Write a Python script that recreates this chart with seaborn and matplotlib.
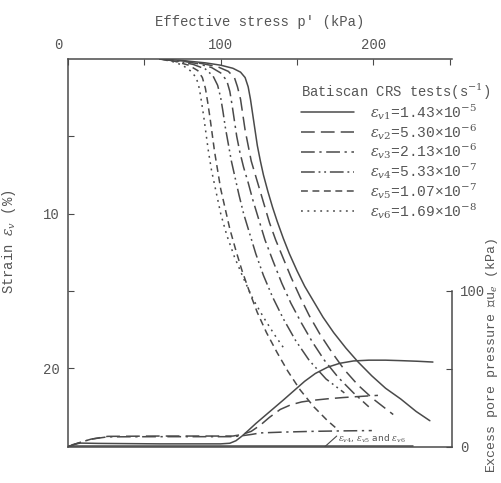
import matplotlib
matplotlib.use("Agg")
import matplotlib.pyplot as plt
from matplotlib.lines import Line2D
from matplotlib.transforms import ScaledTranslation
import seaborn as sns
import pandas as pd

# ---------------- data ----------------
# strain curves: effective stress p' (kPa) vs strain (%)
p1 = [60, 75, 90, 100, 108, 113, 116, 118, 119.5, 121, 122.5, 124, 126, 128, 131, 134,
      137, 141, 145, 150, 155, 161, 167, 174, 182, 190, 199, 208, 218, 228, 237]
s1 = [0, 0.1, 0.25, 0.4, 0.6, 0.85, 1.2, 1.8, 2.6, 3.6, 4.6, 5.6, 6.6, 7.5, 8.6, 9.6,
      10.5, 11.6, 12.6, 13.7, 14.7, 15.7, 16.7, 17.7, 18.7, 19.6, 20.5, 21.3, 22.0, 22.8, 23.4]

p2 = [60, 75, 88, 98, 105, 109, 111, 113, 114.5, 116, 118, 120, 123, 126, 129, 132,
      136, 141, 146, 152, 158, 165, 173, 181, 190, 200, 213]
s2 = [0, 0.12, 0.3, 0.5, 0.8, 1.2, 1.8, 2.6, 3.6, 4.6, 5.6, 6.6, 7.6, 8.6, 9.6, 10.6,
      11.7, 12.9, 14.1, 15.4, 16.6, 17.8, 19.0, 20.1, 21.1, 22.0, 23.0]

p3 = [60, 74, 85, 94, 100, 104, 106, 107.5, 109, 110.5, 112.5, 115, 118, 121, 125, 129,
      134, 140, 146, 153, 160, 168, 177, 187, 197]
s3 = [0, 0.12, 0.3, 0.55, 0.9, 1.4, 2.1, 3.0, 4.0, 5.0, 6.0, 7.0, 8.0, 9.1, 10.4, 11.7,
      13.0, 14.5, 15.8, 17.1, 18.3, 19.5, 20.6, 21.6, 22.5]

p4 = [60, 72, 82, 90, 95, 98, 100, 101.5, 103, 105, 107, 109.5, 112, 115, 119, 123,
      128, 134, 141, 149, 158, 169, 181]
s4 = [0, 0.15, 0.35, 0.65, 1.1, 1.7, 2.5, 3.4, 4.4, 5.5, 6.6, 7.7, 8.8, 10.0, 11.3, 12.6,
      14.0, 15.4, 16.8, 18.2, 19.5, 20.7, 21.6]

p5 = [60, 70, 79, 85, 88, 90, 91.5, 93, 94.5, 96, 98, 100, 103, 106, 110, 114, 119,
      124, 130, 137, 144, 152, 161, 170, 177]
s5 = [0, 0.15, 0.4, 0.75, 1.2, 1.9, 2.8, 3.8, 4.9, 6.0, 7.2, 8.4, 9.7, 11.0, 12.4, 13.7,
      15.1, 16.4, 17.7, 19.0, 20.2, 21.4, 22.5, 23.4, 24.0]

p6 = [60, 68, 75, 80, 84, 86, 87.5, 89, 90.5, 92, 94, 97, 100, 104, 109, 115, 121, 128,
      135, 142]
s6 = [0, 0.15, 0.4, 0.75, 1.2, 1.9, 2.8, 3.8, 4.9, 6.0, 7.2, 8.6, 10.0, 11.4, 12.8, 14.2,
      15.5, 16.7, 17.8, 18.8]

# excess pore pressure curves: p' (kPa) vs du (kPa)
up1 = [0, 3, 8, 20, 60, 100, 106, 110, 114, 118, 123, 129, 135, 141, 148, 155, 162,
       170, 178, 187, 197, 208, 218, 229, 239]
u1 = [0, 1.5, 2.5, 2.3, 2.0, 2.0, 2.4, 4, 7, 10.5, 15, 20, 25, 30, 36, 42, 47,
      51, 53.5, 55, 55.5, 55.5, 55.2, 54.8, 54.3]

up2 = [0, 5, 15, 26, 60, 108, 114, 120, 126, 132, 139, 146, 153, 160, 170, 180, 191, 203]
u2 = [0, 2, 5, 6.8, 7.0, 7.0, 8, 10, 14, 19, 24, 27, 28.8, 29.8, 30.8, 31.6, 32.3, 33]

up3 = [0, 5, 15, 26, 60, 108, 114, 120, 126, 140, 160, 180, 199]
u3 = [0, 2, 5, 6.5, 6.6, 6.6, 7.2, 8, 9, 9.5, 10, 10.3, 10.5]

up456 = [0, 50, 100, 150, 200, 226]
u456 = [0.6, 0.6, 0.6, 0.6, 0.6, 0.6]

rate_labels = [
    r"$\varepsilon_{v1}$=1.43×10$^{-5}$",
    r"$\varepsilon_{v2}$=5.30×10$^{-6}$",
    r"$\varepsilon_{v3}$=2.13×10$^{-6}$",
    r"$\varepsilon_{v4}$=5.33×10$^{-7}$",
    r"$\varepsilon_{v5}$=1.07×10$^{-7}$",
    r"$\varepsilon_{v6}$=1.69×10$^{-8}$",
]
x_ticks = [0, 50, 100, 150, 200, 250]
x_ticklabels = ["0", "", "100", "", "200", ""]
y_ticks = [5, 10, 15, 20]
y_ticklabels = ["", "10", "", "20"]
u_ticks = [0, 50, 100]
u_ticklabels = ["0", "", "100"]

# ---------------- style ----------------
sns.set_style("ticks")
plt.rcParams["font.family"] = ["Liberation Mono", "DejaVu Sans"]
plt.rcParams["mathtext.fontset"] = "dejavuserif"

INK = "#4a4a4a"
TXT = "#555555"
LW = 1.1
styles = [
    "-",
    (0, (9, 4)),
    (0, (9, 3, 1.5, 3)),
    (0, (9, 2.5, 1.2, 2.5, 1.2, 2.5)),
    (0, (4.5, 3)),
    (0, (1.2, 3)),
]

fig = plt.figure(figsize=(5.01, 4.83), dpi=100)
ax = fig.add_axes([68 / 501, 1 - 447 / 483, (452 - 68) / 501, (447 - 59) / 483])
ax2 = ax.twinx()

strain_sets = [(p1, s1), (p2, s2), (p3, s3), (p4, s4), (p5, s5), (p6, s6)]
for (pp, ss), ls in zip(strain_sets, styles):
    df = pd.DataFrame({"p": pp, "s": ss})
    sns.lineplot(data=df, x="p", y="s", ax=ax, sort=False, estimator=None,
                 color=INK, linewidth=LW, linestyle=ls)

u_sets = [(up1, u1, styles[0]), (up2, u2, styles[1]), (up3, u3, styles[2]),
          (up456, u456, "-")]
for pp, uu, ls in u_sets:
    df = pd.DataFrame({"p": pp, "u": uu})
    sns.lineplot(data=df, x="p", y="u", ax=ax2, sort=False, estimator=None,
                 color=INK, linewidth=LW, linestyle=ls)

# ---------------- axes ----------------
ax.set_xlim(0, 251.5)
ax.set_ylim(25.1, 0)
ax2.set_ylim(0, 248)

ax.xaxis.tick_top()
ax.xaxis.set_label_position("top")
ax.set_xticks(x_ticks)
ax.set_xticklabels(x_ticklabels)
ax.set_yticks(y_ticks)
ax.set_yticklabels(y_ticklabels)
ax.tick_params(axis="x", direction="in", top=True, bottom=False, length=4,
               color=INK, labelsize=10, labelcolor=TXT, pad=5)
ax.tick_params(axis="y", direction="in", left=True, right=False, length=4,
               color=INK, labelsize=10, labelcolor=TXT, pad=6)
ax.set_xlabel("Effective stress p' (kPa)", fontsize=10, color=TXT, labelpad=9)
ax.set_ylabel(r"Strain $\varepsilon_{v}$ (%)", fontsize=10, color=TXT)
ax.yaxis.set_label_coords(-0.13, 0.53)

# the "0" of the top axis sits a little left of the corner
zero_lbl = ax.get_xticklabels()[0]
zero_lbl.set_transform(zero_lbl.get_transform()
                       + ScaledTranslation(-0.10, 0, fig.dpi_scale_trans))

ax2.set_yticks(u_ticks)
ax2.set_yticklabels(u_ticklabels)
ax2.tick_params(axis="y", direction="in", right=True, length=4, color=INK,
                labelsize=10, labelcolor=TXT, pad=6)
ax2.set_ylabel(r"Excess pore pressure △u$_e$ (kPa)", fontsize=9.5, color=TXT)
ax2.yaxis.set_label_coords(1.083, 0.235)

for name, sp in ax.spines.items():
    sp.set_color(INK)
    sp.set_linewidth(1.1)
ax.spines["right"].set_visible(False)
for name, sp in ax2.spines.items():
    sp.set_visible(name == "right")
    sp.set_color(INK)
    sp.set_linewidth(1.1)
ax2.spines["right"].set_bounds(0, 100)

# annotation for the near-zero pore pressure curves
ax2.plot([168, 176], [0, 7], color=INK, linewidth=0.8)
ax2.text(177, 5, r"$\varepsilon_{v4}$, $\varepsilon_{v5}$ and $\varepsilon_{v6}$",
         fontsize=6.5, color=TXT, family="DejaVu Sans", va="center")

# legend
handles = [Line2D([], [], color=INK, linewidth=LW, linestyle=ls) for ls in styles]
leg = ax.legend(handles, rate_labels, loc="upper left",
                bbox_to_anchor=(301 / 501, 1 - 82 / 483),
                bbox_transform=fig.transFigure, frameon=False,
                title=r"Batiscan CRS tests(s$^{-1}$)", title_fontsize=10,
                fontsize=10.5, handlelength=3.6, handletextpad=1.1,
                labelspacing=0.0, borderaxespad=0, borderpad=0,
                alignment="left")
for t in leg.get_texts():
    t.set_color(TXT)
leg.get_title().set_color(TXT)

fig.savefig("out.png", dpi=100)
